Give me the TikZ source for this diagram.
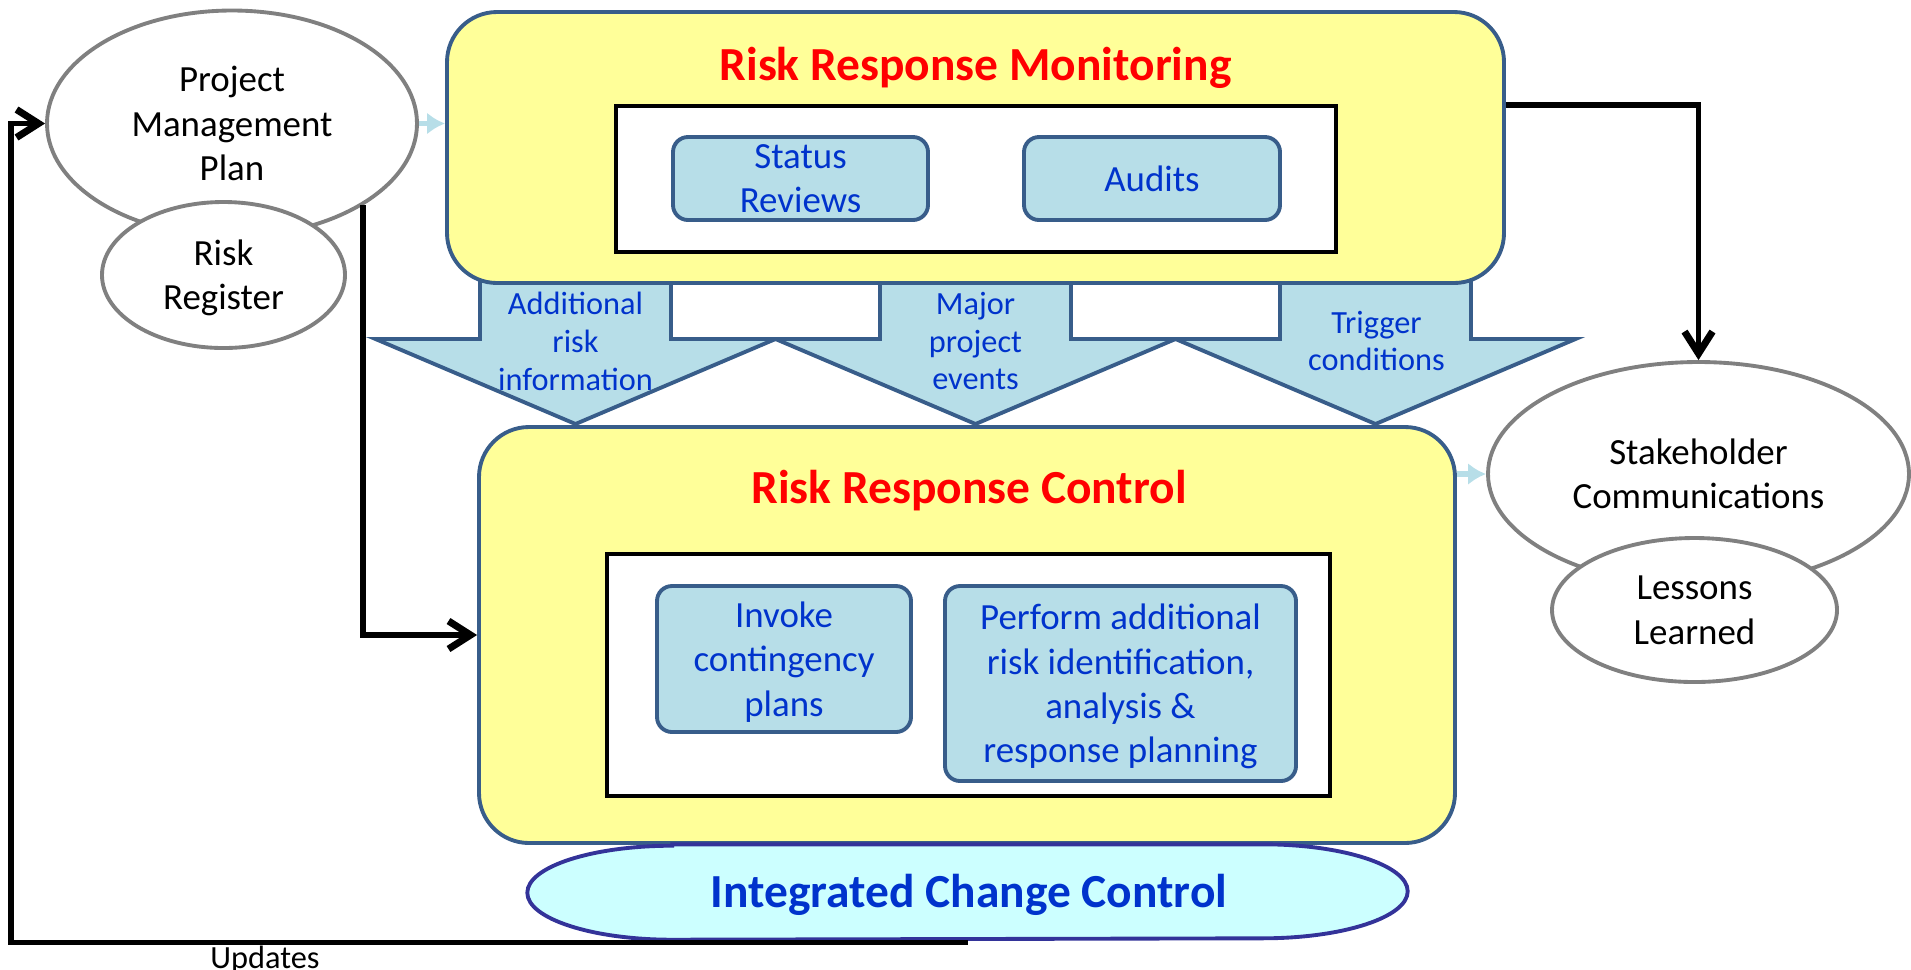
\documentclass[tikz,border=0pt]{standalone}
\usepackage{fontspec}
\setmainfont{Carlito}
\usepackage{tikz}
\usetikzlibrary{shapes.geometric,arrows.meta}
\definecolor{padyellow}{HTML}{FFFF99}
\definecolor{frameblue}{HTML}{385D8A}
\definecolor{paleblue}{HTML}{B7DEE8}
\definecolor{inkblue}{HTML}{0033CC}
\definecolor{iccfill}{HTML}{CCFFFF}
\definecolor{iccline}{HTML}{333399}
\newcommand{\bodyfont}{\fontsize{10.5}{12.6}\selectfont}
\newcommand{\labelfont}{\fontsize{9.2}{10.8}\selectfont}
\newcommand{\headfont}{\fontsize{13.5}{16}\selectfont\bfseries}

\begin{document}
\begin{tikzpicture}[
  oval/.style={shape=ellipse,draw=gray,line width=1.1pt,fill=white,inner sep=0pt,align=center,font=\bodyfont},
  panel/.style={draw=frameblue,line width=1.1pt,fill=padyellow,rounded corners=0.5cm,inner sep=0pt},
  frame/.style={draw=black,line width=1.2pt,fill=white,inner sep=0pt},
  task/.style={draw=frameblue,line width=1.1pt,fill=paleblue,rounded corners=0.15cm,inner sep=0pt,align=center,font=\bodyfont,text=inkblue},
  flow/.style={draw=frameblue,line width=1.1pt,fill=paleblue,line join=miter},
  tag/.style={align=center,font=\labelfont,text=inkblue},
  link/.style={draw=black,line width=1.5pt,-{Straight Barb[length=0.22cm,width=0.28cm,line width=2pt]}},
  feed/.style={draw=paleblue,line width=1.6pt,-{Latex[length=0.18cm,width=0.22cm]}},
  title/.style={anchor=base,font=\headfont,text=red}
]
\useasboundingbox (0,0) rectangle (19.11,-9.69);
% block arrows between the two panels
\foreach \cx in {5.755,9.755,13.755}
  \draw[flow] (\cx-0.955,-2.80) -- (\cx-0.955,-3.39) -- (\cx-2.0,-3.39) -- (\cx,-4.24)
              -- (\cx+2.0,-3.39) -- (\cx+0.955,-3.39) -- (\cx+0.955,-2.80);
\node(info) at (5.755,-3.41)[tag] {Additional\\risk\\information};
\node(events) at (9.755,-3.41)[tag] {Major\\project\\events};
\node(trigger) at (13.765,-3.41)[tag] {Trigger\\conditions};

% monitoring panel
\node(mon) at (9.755,-1.475)[panel,minimum width=10.57cm,minimum height=2.71cm] {};
\node(montitle) at (9.755,-0.80)[title] {Risk Response Monitoring};
\node(monin) at (9.76,-1.79)[frame,minimum width=7.2cm,minimum height=1.46cm] {};
\node(status) at (8.005,-1.785)[task,minimum width=2.55cm,minimum height=0.83cm] {Status\\Reviews};
\node(audits) at (11.52,-1.785)[task,minimum width=2.56cm,minimum height=0.83cm] {Audits};

% control panel
\node(ctl) at (9.67,-6.35)[panel,minimum width=9.76cm,minimum height=4.16cm] {};
\node(ctltitle) at (9.69,-5.03)[title] {Risk Response Control};
\node(ctlin) at (9.685,-6.75)[frame,minimum width=7.23cm,minimum height=2.42cm] {};
\node(invoke) at (7.84,-6.59)[task,minimum width=2.54cm,minimum height=1.46cm,text depth=0cm] {Invoke\\contingency\\plans};
\node(perform) at (11.205,-6.835)[task,minimum width=3.51cm,minimum height=1.95cm,text depth=0cm] {Perform additional\\risk identification,\\analysis \&\\response planning};

% integrated change control
\node(icc) at (9.675,-8.92)[minimum width=8.79cm,minimum height=0.94cm,inner sep=0pt] {};
\draw[fill=iccfill,draw=iccline,line width=1.1pt]
  ([xshift=1.45cm]icc.north west) -- ([xshift=-1.45cm]icc.north east)
  arc[start angle=90,end angle=-90,x radius=1.45cm,y radius=0.47cm]
  -- ([xshift=1.45cm]icc.south west)
  arc[start angle=270,end angle=90,x radius=1.45cm,y radius=0.47cm] -- cycle;
\node(icctext) at (9.69,-9.07)[anchor=base,font=\headfont,text=inkblue] {Integrated Change Control};

% inputs and outputs
\node(pmp) at (2.32,-1.235)[oval,minimum width=3.70cm,minimum height=2.26cm] {Project\\Management\\Plan};
\node(rreg) at (2.235,-2.75)[oval,minimum width=2.43cm,minimum height=1.46cm,text depth=0cm] {Risk\\Register};
\node(stake) at (16.985,-4.74)[oval,minimum width=4.21cm,minimum height=2.24cm] {Stakeholder\\Communications};
\node(lessons) at (16.945,-6.10)[oval,minimum width=2.85cm,minimum height=1.44cm,text depth=-0.07cm] {Lessons\\Learned};

\draw[link] (pmp.-32) |- (ctl.west);
\draw[link] ([yshift=0.425cm]mon.east) -| (stake.north);
\draw[link] (icc.south) ++(0,-0.03) -| ([xshift=-0.34cm]pmp.west) -- (pmp.west);
\node(upd) at (2.65,-9.45)[anchor=north,inner sep=0pt,font=\labelfont] {Updates};
\draw[feed] (pmp.east) -- (pmp.east -| mon.west);
\draw[feed] (stake.west -| ctl.east) -- (stake.west);
\end{tikzpicture}
\end{document}
